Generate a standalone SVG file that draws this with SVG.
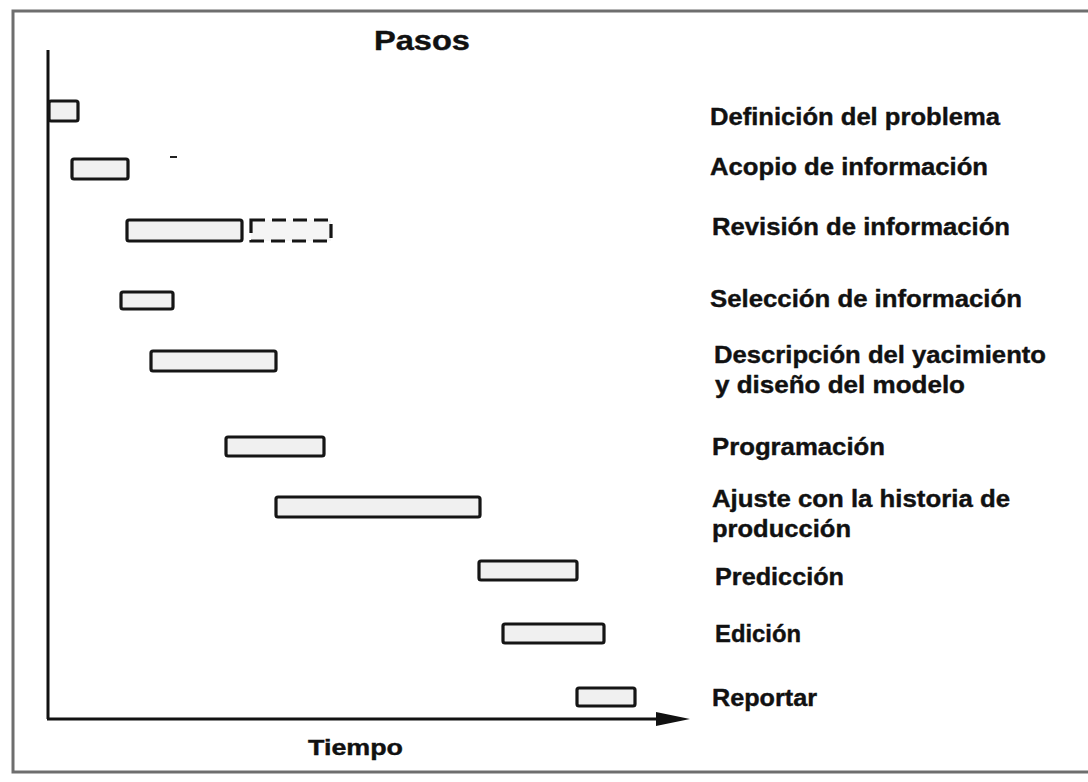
<svg xmlns="http://www.w3.org/2000/svg" width="1088" height="782" viewBox="0 0 1088 782">
<style>
.bar{fill:#f0f0f0;stroke:#151515;stroke-width:3.2}
.dash{fill:#f5f5f5;stroke:#151515;stroke-width:3.2;stroke-dasharray:14,7}
.lbl{font-family:"Liberation Sans",Arial,sans-serif;font-weight:bold;font-size:24px;fill:#111;stroke:#111;stroke-width:0.4}
.axis{stroke:#111;stroke-width:3;fill:none}
</style>
<rect x="0" y="0" width="1088" height="782" fill="#fff"/>
<rect x="13" y="11" width="1090" height="761" fill="none" stroke="#6e6e6e" stroke-width="3"/>
<g id="connectors">
<line class="axis" x1="48" y1="50" x2="48" y2="719"/>
<path d="M47,719 L660,719" class="axis"/>
<path d="M656,712 L690,719 L656,726 Z" fill="#111"/>
</g>
<text x="374" y="50" class="lbl" style="font-size:27px" textLength="96" lengthAdjust="spacingAndGlyphs">Pasos</text>
<text x="308" y="755" class="lbl" style="font-size:22px" textLength="95" lengthAdjust="spacingAndGlyphs">Tiempo</text>
<line x1="170" y1="157" x2="177" y2="157" stroke="#222" stroke-width="2"/>
<g id="n1"><rect class="bar" x="49" y="101" width="29" height="20" rx="2"/><text class="lbl" x="710" y="125" textLength="290" lengthAdjust="spacingAndGlyphs">Definición del problema</text></g>
<g id="n2"><rect class="bar" x="72" y="159" width="56" height="20" rx="2"/><text class="lbl" x="710" y="175" textLength="278" lengthAdjust="spacingAndGlyphs">Acopio de información</text></g>
<g id="n3"><rect class="bar" x="127" y="220" width="115" height="21" rx="2"/><rect class="dash" x="251" y="220" width="80" height="21"/><text class="lbl" x="712" y="235" textLength="298" lengthAdjust="spacingAndGlyphs">Revisión de información</text></g>
<g id="n4"><rect class="bar" x="121" y="292" width="52" height="17" rx="2"/><text class="lbl" x="710" y="307" textLength="312" lengthAdjust="spacingAndGlyphs">Selección de información</text></g>
<g id="n5"><rect class="bar" x="151" y="351" width="125" height="20" rx="2"/><text class="lbl" x="714" y="363" textLength="332" lengthAdjust="spacingAndGlyphs">Descripción del yacimiento</text><text class="lbl" x="715" y="393" textLength="250" lengthAdjust="spacingAndGlyphs">y diseño del modelo</text></g>
<g id="n6"><rect class="bar" x="226" y="437" width="98" height="19" rx="2"/><text class="lbl" x="712" y="455" textLength="173" lengthAdjust="spacingAndGlyphs">Programación</text></g>
<g id="n7"><rect class="bar" x="276" y="497" width="204" height="20" rx="2"/><text class="lbl" x="712" y="507" textLength="298" lengthAdjust="spacingAndGlyphs">Ajuste con la historia de</text><text class="lbl" x="712" y="537" textLength="139" lengthAdjust="spacingAndGlyphs">producción</text></g>
<g id="n8"><rect class="bar" x="479" y="561" width="98" height="19" rx="2"/><text class="lbl" x="715" y="585" textLength="129" lengthAdjust="spacingAndGlyphs">Predicción</text></g>
<g id="n9"><rect class="bar" x="503" y="624" width="101" height="19" rx="2"/><text class="lbl" x="715" y="642" textLength="86" lengthAdjust="spacingAndGlyphs">Edición</text></g>
<g id="n10"><rect class="bar" x="577" y="688" width="58" height="18" rx="2"/><text class="lbl" x="712" y="706" textLength="105" lengthAdjust="spacingAndGlyphs">Reportar</text></g>
</svg>
